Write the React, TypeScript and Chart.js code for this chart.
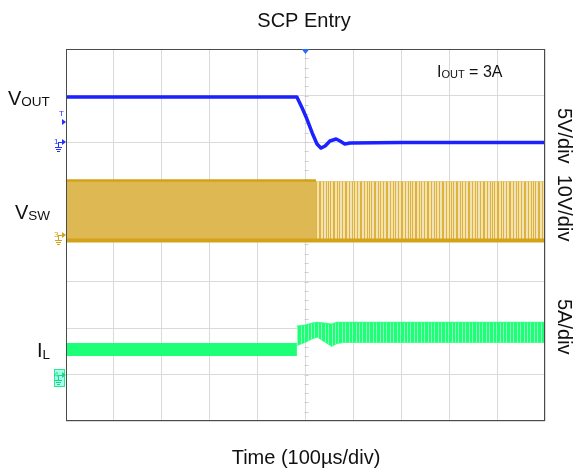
import React, { useEffect, useRef } from 'react';
import { Chart, registerables } from 'chart.js';

Chart.register(...registerables);

// Time base: 0..1000 µs (100 µs/div, 10 divisions)
const timeRangeUs = [0, 1000];

// VOUT (volts), 5 V/div, ground 6 div from bottom
const voutTimeUs = [0, 482, 493, 503, 514, 524, 532, 541, 551, 564, 572, 582, 593, 700, 1000];
const voutVolts = [4.84, 4.84, 3.66, 2.47, 0.97, -0.22, -0.65, -0.43, 0.11, 0.32, 0.11, -0.22, -0.11, -0.05, -0.05];

// VSW envelope (volts), 10 V/div, ground 4 div from bottom
const vswDenseTimeUs = [0, 522];
const vswDenseHigh = [11.7, 11.7];
const vswDenseLow = [-1.2, -1.2];
const vswSparseTimeUs = [522, 1000];
const vswSparseHigh = [11.5, 11.5];
const vswSparseLow = [-1.2, -1.2];

// IL envelope (amps), 5 A/div, ground 1 div from bottom
const ilBeforeTimeUs = [0, 482];
const ilBeforeHigh = [3.33, 3.33];
const ilBeforeLow = [2.04, 2.04];
const ilAfterTimeUs = [482, 499, 516, 525, 540, 555, 565, 580, 1000];
const ilAfterHigh = [5.2, 5.3, 5.55, 5.6, 5.5, 5.4, 5.6, 5.6, 5.6];
const ilAfterLow = [3.1, 3.44, 3.87, 4.0, 3.5, 3.0, 3.3, 3.44, 3.44];

// Channel settings
const divisions = 8;
const voutPerDiv = 5, voutGroundDiv = 6;
const vswPerDiv = 10, vswGroundDiv = 4;
const ilPerDiv = 5, ilGroundDiv = 1;

const pts = (xs: number[], ys: number[]) => xs.map((x, i) => ({ x, y: ys[i] }));

const FONT = '"Liberation Sans", Arial, Helvetica, sans-serif';

// vertical-stripe texture used as a fill style (scope-trace look)
function stripes(bg: string, fg: string, cols: number[], width: number): CanvasPattern | string {
  const c = document.createElement('canvas');
  c.width = width; c.height = 4;
  const g = c.getContext('2d');
  if (!g) return bg;
  g.fillStyle = bg; g.fillRect(0, 0, width, 4);
  g.fillStyle = fg;
  cols.forEach((x) => g.fillRect(x, 0, 1, 4));
  const p = g.createPattern(c, 'repeat');
  return p || bg;
}

const decor = {
  id: 'decor',
  beforeDatasetsDraw(chart: any) {
    const { ctx, chartArea: a } = chart;
    const cx = Math.round((a.left + a.right) / 2) + 0.5;
    const cy = Math.round((a.top + a.bottom) / 2) + 0.5;
    ctx.save();
    ctx.strokeStyle = '#cfcfcf';
    ctx.lineWidth = 1;
    const dy = (a.bottom - a.top) / 40;
    for (let i = 1; i < 40; i++) {
      const y = Math.round(a.top + i * dy) + 0.5;
      ctx.beginPath(); ctx.moveTo(cx - 2, y); ctx.lineTo(cx + 2, y); ctx.stroke();
    }
    const dx = (a.right - a.left) / 50;
    for (let i = 1; i < 50; i++) {
      const x = Math.round(a.left + i * dx) + 0.5;
      ctx.beginPath(); ctx.moveTo(x, cy - 2); ctx.lineTo(x, cy + 2); ctx.stroke();
    }
    ctx.restore();
  },
  afterDraw(chart: any) {
    const { ctx, chartArea: a } = chart;
    ctx.save();
    // frame
    ctx.strokeStyle = '#4a4a4a';
    ctx.lineWidth = 1;
    ctx.strokeRect(a.left + 0.5, a.top + 0.5, a.right - a.left - 1, a.bottom - a.top - 1);

    // trigger marker
    const tx = (a.left + a.right) / 2;
    ctx.fillStyle = '#2a6cf0';
    ctx.beginPath(); ctx.moveTo(tx - 4, a.top); ctx.lineTo(tx + 4, a.top); ctx.lineTo(tx, a.top + 5); ctx.closePath(); ctx.fill();

    ctx.fillStyle = '#111';
    ctx.textBaseline = 'alphabetic';
    // title
    ctx.font = `20px ${FONT}`;
    ctx.textAlign = 'center';
    ctx.fillText('SCP Entry', 304, 27);
    ctx.fillText('Time (100\u00b5s/div)', 306, 464);

    ctx.textAlign = 'left';
    const sub = (main: string, s: string, x: number, y: number, ms: number, ss: number, dy: number) => {
      ctx.font = `${ms}px ${FONT}`;
      ctx.fillText(main, x, y);
      const w = ctx.measureText(main).width;
      ctx.font = `${ss}px ${FONT}`;
      ctx.fillText(s, x + w, y + dy);
      return x + w + ctx.measureText(s).width;
    };
    sub('V', 'OUT', 8, 105, 20, 13.5, 1);
    sub('V', 'SW', 15, 219, 20, 13.5, 1);
    sub('I', 'L', 37, 357, 20, 13.5, 2);
    const e = sub('I', 'OUT', 437, 77, 16, 11, 1);
    ctx.font = `16px ${FONT}`;
    ctx.fillText(' = 3A', e, 77);

    // right-side rotated labels
    ctx.font = `20px ${FONT}`;
    ctx.save();
    ctx.translate(558, 108);
    ctx.rotate(Math.PI / 2);
    ctx.fillText('5V/div  10V/div', 0, 0);
    ctx.restore();
    ctx.save();
    ctx.translate(558, 299);
    ctx.rotate(Math.PI / 2);
    ctx.fillText('5A/div', 0, 0);
    ctx.restore();

    // channel markers on the left
    const marker = (label: string, y: number, color: string) => {
      ctx.fillStyle = color;
      ctx.strokeStyle = color;
      ctx.font = `8px ${FONT}`;
      ctx.fillText(label, 54, y + 2);
      ctx.lineWidth = 1;
      ctx.beginPath(); ctx.moveTo(58, y + 0.5); ctx.lineTo(62, y + 0.5); ctx.stroke();
      ctx.beginPath(); ctx.moveTo(62, y - 3); ctx.lineTo(66, y); ctx.lineTo(62, y + 3); ctx.closePath(); ctx.fill();
      ctx.beginPath(); ctx.moveTo(58.5, y); ctx.lineTo(58.5, y + 5); ctx.stroke();
      ctx.beginPath(); ctx.moveTo(55, y + 5.5); ctx.lineTo(62, y + 5.5); ctx.stroke();
      ctx.beginPath(); ctx.moveTo(56, y + 7.5); ctx.lineTo(61, y + 7.5); ctx.stroke();
      ctx.beginPath(); ctx.moveTo(57, y + 9.5); ctx.lineTo(60, y + 9.5); ctx.stroke();
    };
    const yV = chart.scales.yV.getPixelForValue(0);
    const ySW = chart.scales.ySW.getPixelForValue(0);
    const yIL = chart.scales.yIL.getPixelForValue(0);
    marker('1', Math.round(yV), '#2030ff');
    marker('3', Math.round(ySW), '#d4a219');
    ctx.fillStyle = '#a6fff0';
    ctx.strokeStyle = '#2ee88a';
    ctx.fillRect(54, Math.round(yIL) - 6, 11, 18);
    ctx.strokeRect(54.5, Math.round(yIL) - 5.5, 10, 17);
    marker('4', Math.round(yIL), '#19d97a');
    // T marker
    ctx.fillStyle = '#2030ff';
    ctx.font = `8px ${FONT}`;
    ctx.fillText('T', 59, 116);
    ctx.beginPath(); ctx.moveTo(62, 119); ctx.lineTo(66, 122); ctx.lineTo(62, 125); ctx.closePath(); ctx.fill();

    ctx.restore();
  },
};

export default function App() {
  const ref = useRef<HTMLCanvasElement>(null);
  useEffect(() => {
    const gold = '#d4a219';
    const green = '#1eff78';
    const swTexture = stripes('#f2e3b6', '#dfb23a', [0, 2, 5, 6, 9, 11, 14, 17, 18, 21, 24, 26, 29, 32, 33, 36, 39], 41);
    const ilTexture = stripes('#8effbb', green, [0, 1, 3, 4, 5, 7, 8, 10, 11, 12, 14, 15, 17, 18, 19, 21, 22], 24);
    const chart = new Chart(ref.current as HTMLCanvasElement, {
      type: 'line',
      data: {
        datasets: [
          { label: 'VOUT', data: pts(voutTimeUs, voutVolts), yAxisID: 'yV', borderColor: '#1c22ff', borderWidth: 3.5, fill: false },
          { label: 'VSW low', data: pts(vswDenseTimeUs, vswDenseLow), yAxisID: 'ySW', borderColor: gold, borderWidth: 4, fill: false },
          { label: 'VSW high', data: pts(vswDenseTimeUs, vswDenseHigh), yAxisID: 'ySW', borderColor: gold, borderWidth: 2.5, fill: '-1', backgroundColor: '#ddb853' },
          { label: 'VSW sparse low', data: pts(vswSparseTimeUs, vswSparseLow), yAxisID: 'ySW', borderColor: gold, borderWidth: 4, fill: false },
          { label: 'VSW sparse high', data: pts(vswSparseTimeUs, vswSparseHigh), yAxisID: 'ySW', borderColor: 'rgba(222,178,60,0.5)', borderWidth: 1, fill: '-1', backgroundColor: swTexture },
          { label: 'IL low', data: pts(ilBeforeTimeUs, ilBeforeLow), yAxisID: 'yIL', borderColor: green, borderWidth: 1, fill: false },
          { label: 'IL high', data: pts(ilBeforeTimeUs, ilBeforeHigh), yAxisID: 'yIL', borderColor: green, borderWidth: 1, fill: '-1', backgroundColor: green },
          { label: 'IL after low', data: pts(ilAfterTimeUs, ilAfterLow), yAxisID: 'yIL', borderColor: 'rgba(30,255,120,0.6)', borderWidth: 1, fill: false },
          { label: 'IL after high', data: pts(ilAfterTimeUs, ilAfterHigh), yAxisID: 'yIL', borderColor: 'rgba(30,255,120,0.8)', borderWidth: 1.5, fill: '-1', backgroundColor: ilTexture },
        ],
      },
      options: {
        responsive: false,
        animation: false,
        devicePixelRatio: 1,
        events: [],
        elements: { point: { radius: 0 }, line: { tension: 0, borderJoinStyle: 'round' } },
        layout: { padding: { left: 66, top: 49, right: 31, bottom: 52 } },
        plugins: { legend: { display: false }, title: { display: false }, tooltip: { enabled: false } },
        scales: {
          x: {
            type: 'linear', min: timeRangeUs[0], max: timeRangeUs[1],
            ticks: { display: false, stepSize: 100 },
            grid: { color: '#dadada', lineWidth: 1, drawTicks: false },
            border: { display: false },
          },
          yV: {
            type: 'linear', position: 'left',
            min: -voutGroundDiv * voutPerDiv, max: (divisions - voutGroundDiv) * voutPerDiv,
            ticks: { display: false, stepSize: voutPerDiv },
            grid: { color: '#dadada', lineWidth: 1, drawTicks: false },
            border: { display: false },
          },
          ySW: {
            type: 'linear', display: false,
            min: -vswGroundDiv * vswPerDiv, max: (divisions - vswGroundDiv) * vswPerDiv,
          },
          yIL: {
            type: 'linear', display: false,
            min: -ilGroundDiv * ilPerDiv, max: (divisions - ilGroundDiv) * ilPerDiv,
          },
        },
      } as any,
      plugins: [decor],
    });
    return () => chart.destroy();
  }, []);
  return (
    <div style={{ position: 'fixed', left: 0, top: 0, width: 576, height: 473, background: '#fff' }}>
      <canvas ref={ref} width={576} height={473} style={{ width: 576, height: 473, display: 'block' }} />
    </div>
  );
}
